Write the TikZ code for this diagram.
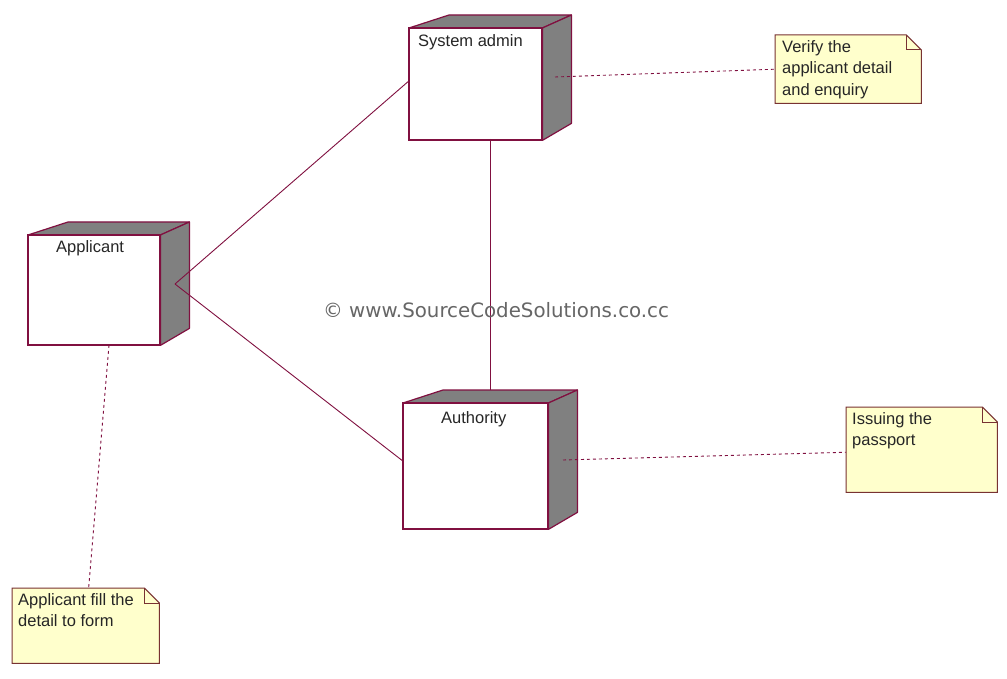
\documentclass[tikz,border=0pt]{standalone}
\usepackage{fontspec}
\setmainfont{Liberation Sans}
\newfontfamily\wmfont{DejaVu Sans}
\usetikzlibrary{calc}
\definecolor{edge}{RGB}{128,16,64}
\definecolor{noteedge}{RGB}{120,50,50}
\definecolor{notefill}{RGB}{255,255,204}
\definecolor{face}{RGB}{128,128,128}
\tikzset{
  front/.style={draw=edge, line width=1.4pt, fill=white, anchor=north west, inner sep=0pt},
  sideface/.style={fill=face, draw=edge, line width=1.2pt, line join=round},
  lbl/.style={font=\fontsize{16.5}{20}\selectfont, anchor=base west, inner sep=0pt, text=black!85},
  notebox/.style={anchor=north west, inner sep=0pt},
  notedraw/.style={fill=notefill, draw=noteedge, line width=1pt},
  notetext/.style={font=\fontsize{16.5}{21.5}\selectfont, anchor=north west, align=left, inner sep=0pt, text=black!85},
  link/.style={draw=edge, line width=0.9pt},
  dlink/.style={draw=edge, line width=0.9pt, dash pattern=on 3pt off 3pt},
}
\newcommand{\nodefaces}[1]{%
  \path[sideface] (#1.north west) -- ++(40,-13) -- ($(#1.north east)+(29,-13)$) -- (#1.north east) -- cycle;
  \path[sideface] (#1.north east) -- ++(29,-13) -- ($(#1.south east)+(29,-17)$) -- (#1.south east) -- cycle;
}
\newcommand{\notefold}[2]{%
  \path[notedraw] (#1.north west) -- ($(#1.north east)+(-#2,0)$) -- ($(#1.north east)+(0,#2)$) -- (#1.south east) -- (#1.south west) -- cycle;
  \draw[noteedge, line width=1pt] ($(#1.north east)+(-#2,0)$) -- ++(0,#2) -- ($(#1.north east)+(0,#2)$);
}
\begin{document}
\begin{tikzpicture}[x=1pt,y=-1pt]
\useasboundingbox[fill=white] (0,0) rectangle (1007,679);

% nodes
\node[front, minimum width=132, minimum height=111] (sys) at (409,28) {};
\node[front, minimum width=131, minimum height=109] (app) at (28,235) {};
\node[front, minimum width=144, minimum height=125] (aut) at (403,403) {};

\nodefaces{sys}
\nodefaces{app}
\nodefaces{aut}
\draw[edge, line width=1.4pt] (sys.north west) rectangle (sys.south east);
\draw[edge, line width=1.4pt] (app.north west) rectangle (app.south east);
\draw[edge, line width=1.4pt] (aut.north west) rectangle (aut.south east);

\node[lbl] (sysl) at (418,47) {System admin};
\node[lbl] (appl) at (56,253) {Applicant};
\node[lbl] (autl) at (441,423) {Authority};

% solid connectors
\coordinate (appR) at (175,284);
\coordinate (sysB) at (490,139);
\coordinate (autT) at (490,390);
\path[link] (appR) -- ($(sys.north west)!0.47!(sys.south west)$);
\path[link] (appR) -- ($(aut.north west)!0.46!(aut.south west)$);
\path[link] (sysB) -- (autT);

% notes
\node[notebox, minimum width=146, minimum height=68] (n1) at (775,35) {};
\node[notebox, minimum width=151, minimum height=85] (n2) at (846,407) {};
\node[notebox, minimum width=147, minimum height=75] (n3) at (12,588) {};
\notefold{n1}{15}
\notefold{n2}{15}
\notefold{n3}{15}
\node[notetext] (n1t) at (782,40) {Verify the\\applicant detail\\and enquiry};
\node[notetext] (n2t) at (852,412) {Issuing the\\passport};
\node[notetext] (n3t) at (18,593) {Applicant fill the\\detail to form};

% dashed connectors
\coordinate (sysR) at (555,77);
\coordinate (autR) at (563,460);
\coordinate (appB) at (109,345);
\path[dlink] (sysR) -- (n1.west);
\path[dlink] (autR) -- ($(n2.north west)!0.53!(n2.south west)$);
\path[dlink] (appB) -- ($(n3.north west)!0.52!(n3.north east)$);

% watermark
\node[font=\wmfont\fontsize{19.8}{22}\selectfont, text=black!60, inner sep=0pt] (wm) at (496,310) {© www.SourceCodeSolutions.co.cc};
\end{tikzpicture}
\end{document}
